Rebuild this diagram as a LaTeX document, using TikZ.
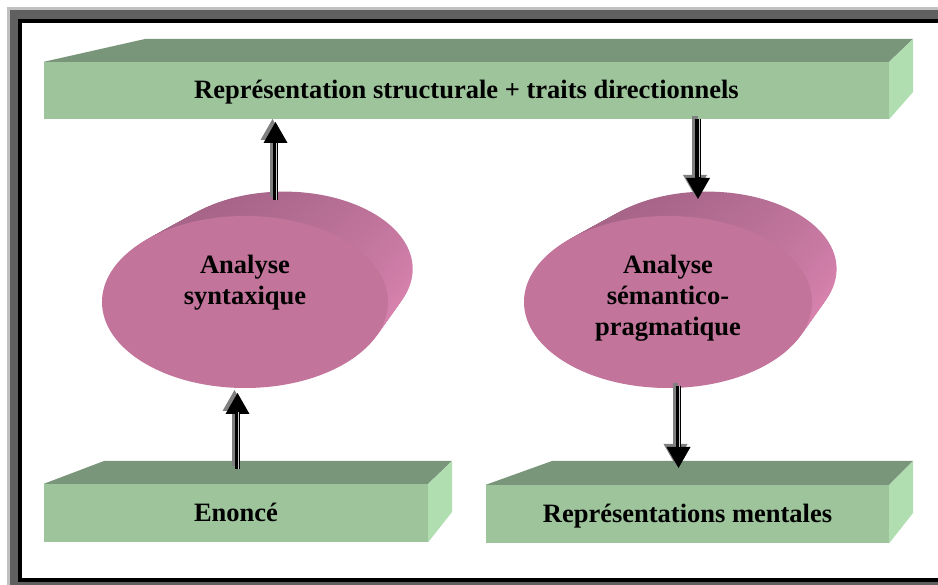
\documentclass[tikz,border=0pt]{standalone}
\usepackage{fontspec}
\setmainfont{Liberation Serif}
\usetikzlibrary{shapes.geometric,arrows.meta,calc,shadings}

\definecolor{frameLight}{RGB}{192,192,192}
\definecolor{frameDark}{RGB}{96,96,96}
\definecolor{slabFront}{RGB}{157,196,155}
\definecolor{slabTop}{RGB}{121,150,122}
\definecolor{slabSide}{RGB}{176,222,176}
\definecolor{discFront}{RGB}{194,116,154}
\definecolor{rimDark}{RGB}{156,94,128}
\definecolor{rimLight}{RGB}{230,140,186}
\definecolor{arrowShade}{RGB}{128,128,128}

% extruded disc: slices from the back face (t=1) to the front face (t=0)
\newcommand\discBody[4]{% centre x, centre y, x radius, y radius
  \foreach \i in {25,24,...,1}{
    \pgfmathsetmacro\tt{\i/25}
    \pgfmathsetmacro\ss{1-0.1*\tt}
    \shade[upper left=rimDark, lower left=rimLight!60!rimDark,
           upper right=rimLight!45!rimDark, lower right=rimLight]
      (#1+39*\tt, #2-33*\tt) ellipse [x radius=#3*\ss, y radius=#4*\ss];
  }}

% thick arrow with a grey drop shadow and a thin light seam in the shaft
\newcommand\seamArrow[3]{% start, tip, seam end
  \draw[arrowShadowLine] (#1) -- (#2);
  \draw[arrowLine] (#1) -- (#2);
  \draw[seamLine] ([xshift=1.2pt]#1) -- ([xshift=1.2pt]#3);}

\begin{document}
\begin{tikzpicture}[x=1pt,y=-1pt,
  lbl/.style={font=\fontsize{26.5}{31}\selectfont\bfseries, inner sep=0pt},
  slab/.style={rectangle, fill=slabFront, lbl, text height=18pt, text depth=2pt},
  disc/.style={ellipse, fill=discFront, inner sep=0pt},
  arrowLine/.style={line width=5.5pt, black, -{Triangle[length=21pt,width=24pt,line width=0pt]}},
  arrowShadowLine/.style={arrowLine, draw=arrowShade, fill=arrowShade, transform canvas={shift={(-3pt,3pt)}}},
  seamLine/.style={line width=0.7pt, white!80!black},
]
\useasboundingbox (0,0) rectangle (938,585);
\clip (0,0) rectangle (938,585);

% window frame
\fill[frameLight] (7,7) rectangle (950,600);
\fill[frameDark] (10,10) rectangle (950,600);
\fill[white] (20,21) rectangle (939,580);
\draw[black, line width=4pt] (20,21) rectangle (940,580);

% top slab
\node[slab, minimum width=845pt, minimum height=57pt] (rep) at (466.5,90.5)
  {Représentation structurale + traits directionnels};
\fill[slabTop] (rep.north west) -- (rep.north east) -- (913,39) -- (145,39) -- cycle;
\fill[slabSide] (rep.north east) -- (913,39) -- (913,92) -- (rep.south east) -- cycle;

% bottom left slab
\node[slab, minimum width=384pt, minimum height=58pt] (eno) at (236,513) {Enoncé};
\fill[slabTop] (eno.north west) -- (eno.north east) -- (452,461) -- (104,461) -- cycle;
\fill[slabSide] (eno.north east) -- (452,461) -- (452,512) -- (eno.south east) -- cycle;

% bottom right slab
\node[slab, minimum width=403pt, minimum height=58pt] (men) at (687.5,514) {Représentations mentales};
\fill[slabTop] (men.north west) -- (men.north east) -- (913,461) -- (552,461) -- cycle;
\fill[slabSide] (men.north east) -- (913,461) -- (913,513) -- (men.south east) -- cycle;

% discs
\discBody{245}{302}{143}{86}
\node[disc, minimum width=286pt, minimum height=172pt] (syn) at (245,302) {};
\node[lbl, align=center] (synT) at (245,282.5) {Analyse\\syntaxique};

\discBody{668}{302}{144}{86}
\node[disc, minimum width=288pt, minimum height=172pt] (sem) at (668,302) {};
\node[lbl, align=center] (semT) at (668,298.5) {Analyse\\sémantico-\\pragmatique};

% connectors
\coordinate (a1s) at (275.5,200); \coordinate (a1e) at (275.5,122); \coordinate (a1b) at (275.5,143);
\coordinate (a2s) at (237.5,469); \coordinate (a2e) at (237.5,393); \coordinate (a2b) at (237.5,412);
\coordinate (a3s) at (698,119);   \coordinate (a3e) at (698,199);   \coordinate (a3b) at (698,177);
\coordinate (a4s) at (678.5,386); \coordinate (a4e) at (678.5,468); \coordinate (a4b) at (678.5,447);
\seamArrow{a1s}{a1e}{a1b}
\seamArrow{a2s}{a2e}{a2b}
\seamArrow{a3s}{a3e}{a3b}
\seamArrow{a4s}{a4e}{a4b}
\end{tikzpicture}
\end{document}
